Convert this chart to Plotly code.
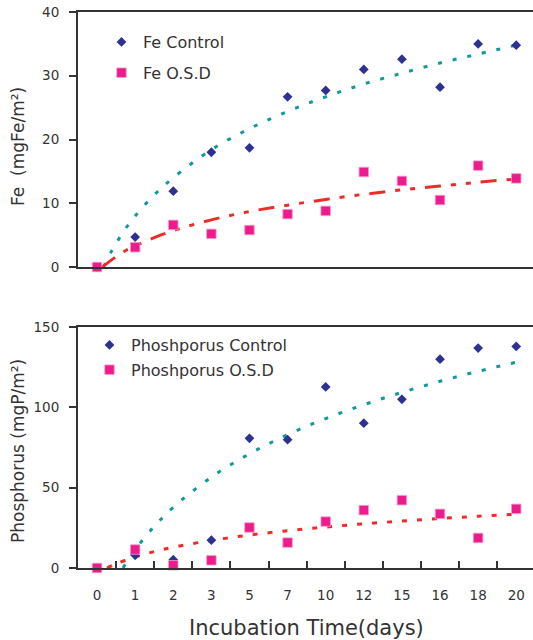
import plotly.graph_objects as go

# ---------------- data ----------------
days = ["0", "1", "2", "3", "5", "7", "10", "12", "15", "16", "18", "20"]
idx = list(range(len(days)))

fe_control = [0, 4.7, 11.9, 18.0, 18.7, 26.7, 27.7, 31.0, 32.6, 28.2, 35.0, 34.8]
fe_osd = [0, 3.1, 6.6, 5.2, 5.8, 8.3, 8.8, 14.9, 13.5, 10.5, 15.9, 13.9]
p_control = [0, 7.9, 5.2, 17.3, 80.7, 79.9, 112.7, 90.1, 105.0, 130.0, 136.9, 137.9]
p_osd = [0, 11.5, 1.7, 4.8, 25.2, 15.8, 28.9, 36.0, 42.2, 33.7, 18.7, 36.8]

# trend lines (position on category axis, value)
fe_ctrl_tr_x = [0.17, 0.4, 0.7, 1, 1.5, 2, 3, 4, 5, 6, 7, 8, 9, 10, 11]
fe_ctrl_tr_y = [0, 2.7, 5.6, 8.0, 11.3, 14.0, 18.4, 21.7, 24.4, 26.7, 28.7, 30.4, 32.0, 33.4, 34.8]
fe_osd_tr_x = [0.14, 0.4, 0.7, 1, 1.5, 2, 3, 4, 5, 6, 7, 8, 9, 10, 11]
fe_osd_tr_y = [0, 1.2, 2.4, 3.3, 4.6, 5.7, 7.4, 8.7, 9.7, 10.6, 11.4, 12.1, 12.7, 13.3, 13.8]
p_ctrl_tr_x = [0.68, 0.85, 1, 1.5, 2, 3, 4, 5, 6, 7, 8, 9, 10, 11]
p_ctrl_tr_y = [0, 6.3, 11.4, 25.9, 37.8, 56.5, 71.1, 83.0, 93.0, 101.6, 109.3, 116.2, 122.4, 128.1]
p_osd_tr_x = [0.26, 0.5, 1, 1.5, 2, 3, 4, 5, 6, 7, 8, 9, 10, 11]
p_osd_tr_y = [0, 2.6, 6.9, 10.2, 12.9, 17.2, 20.5, 23.2, 25.5, 27.5, 29.2, 30.8, 32.2, 33.5]

NAVY = "#2e3192"
PINK = "#ec1c8c"
TEAL = "#12999c"
RED = "#ee2b2b"
TXT = "#333333"
FONT = "DejaVu Sans"

fig = go.Figure()

# top panel trend lines
fig.add_trace(go.Scatter(x=fe_ctrl_tr_x, y=fe_ctrl_tr_y, mode="lines", line=dict(color=TEAL, width=3, dash="4px,11px", shape="spline"),
                         showlegend=False, xaxis="x", yaxis="y", hoverinfo="skip"))
fig.add_trace(go.Scatter(x=fe_osd_tr_x, y=fe_osd_tr_y, mode="lines", line=dict(color=RED, width=3, dash="16px,10px,5px,10px,5px,10px", shape="spline"),
                         showlegend=False, xaxis="x", yaxis="y", hoverinfo="skip"))
# top panel markers
fig.add_trace(go.Scatter(x=idx, y=fe_control, mode="markers", name="Fe Control",
                         marker=dict(symbol="diamond", size=7.5, color=NAVY), cliponaxis=False,
                         xaxis="x", yaxis="y", legend="legend", legendgroup="a"))
fig.add_trace(go.Scatter(x=idx, y=fe_osd, mode="markers", name="Fe O.S.D",
                         marker=dict(symbol="square", size=9.5, color=PINK, line=dict(color="#f59ccb", width=0.8)), cliponaxis=False,
                         xaxis="x", yaxis="y", legend="legend", legendgroup="b"))

# bottom panel trend lines
fig.add_trace(go.Scatter(x=p_ctrl_tr_x, y=p_ctrl_tr_y, mode="lines", line=dict(color=TEAL, width=3, dash="4px,11px", shape="spline"),
                         showlegend=False, xaxis="x2", yaxis="y2", hoverinfo="skip"))
fig.add_trace(go.Scatter(x=p_osd_tr_x, y=p_osd_tr_y, mode="lines", line=dict(color=RED, width=3, dash="5px,10px", shape="spline"),
                         showlegend=False, xaxis="x2", yaxis="y2", hoverinfo="skip"))
fig.add_trace(go.Scatter(x=idx, y=p_control, mode="markers", name="Phoshporus Control",
                         marker=dict(symbol="diamond", size=7.5, color=NAVY), cliponaxis=False,
                         xaxis="x2", yaxis="y2", legend="legend2", legendgroup="c"))
fig.add_trace(go.Scatter(x=idx, y=p_osd, mode="markers", name="Phoshporus O.S.D",
                         marker=dict(symbol="square", size=9.5, color=PINK, line=dict(color="#f59ccb", width=0.8)), cliponaxis=False,
                         xaxis="x2", yaxis="y2", legend="legend2", legendgroup="d"))

W, H = 533, 640
xdom = [78 / W, 1.0]
xrange = [-0.5, 11.44]

common_x = dict(range=xrange, domain=xdom, showline=True, linecolor=TXT, linewidth=2, mirror=True,
                showgrid=False, zeroline=False, fixedrange=True, automargin=False)
common_y = dict(showline=True, linecolor=TXT, linewidth=2, showgrid=False, zeroline=False,
                ticks="outside", ticklen=7, tickwidth=1.5, tickcolor=TXT, automargin=False,
                tickfont=dict(family=FONT, size=13.5, color=TXT), ticklabelstandoff=7)

fig.update_layout(
    width=W, height=H, autosize=False,
    margin=dict(l=0, r=0, t=0, b=0, autoexpand=False),
    paper_bgcolor="white", plot_bgcolor="white",
    font=dict(family=FONT, color=TXT),
    xaxis=dict(**common_x, anchor="y", showticklabels=False, ticks=""),
    yaxis=dict(**common_y, domain=[1 - 267 / H, 1 - 12 / H], range=[0, 40], tickvals=[0, 10, 20, 30, 40], anchor="x"),
    xaxis2=dict(**common_x, anchor="y2", tickvals=idx, ticktext=days, ticks="", ticklabelstandoff=14,
                tickfont=dict(family=FONT, size=13.5, color=TXT),
                minor=dict(tickvals=[i + 0.5 for i in idx], ticks="inside", ticklen=7, tickwidth=1.5, tickcolor=TXT)),
    yaxis2=dict(**common_y, domain=[1 - 568 / H, 1 - 327 / H], range=[0, 150], tickvals=[0, 50, 100, 150], anchor="x2"),
    legend=dict(x=100 / W, y=1 - 25 / H, xanchor="left", yanchor="top", bgcolor="rgba(0,0,0,0)",
                font=dict(family=FONT, size=16, color=TXT), tracegroupgap=7, itemwidth=33),
    legend2=dict(x=88 / W, y=1 - 328 / H, xanchor="left", yanchor="top", bgcolor="rgba(0,0,0,0)",
                 font=dict(family=FONT, size=16, color=TXT), tracegroupgap=1, itemwidth=33),
    annotations=[
        dict(text="Fe  (mgFe/m²)", x=18 / W, y=1 - 147 / H, xref="paper", yref="paper", textangle=-90,
             showarrow=False, font=dict(family=FONT, size=17, color=TXT), xanchor="center", yanchor="middle"),
        dict(text="Phosphorus (mgP/m²)", x=18 / W, y=1 - 451 / H, xref="paper", yref="paper", textangle=-90,
             showarrow=False, font=dict(family=FONT, size=17, color=TXT), xanchor="center", yanchor="middle"),
        dict(text="Incubation Time(days)", x=306 / W, y=1 - 628 / H, xref="paper", yref="paper",
             showarrow=False, font=dict(family=FONT, size=21, color=TXT), xanchor="center", yanchor="middle"),
    ],
)

fig.write_html("out.html")
